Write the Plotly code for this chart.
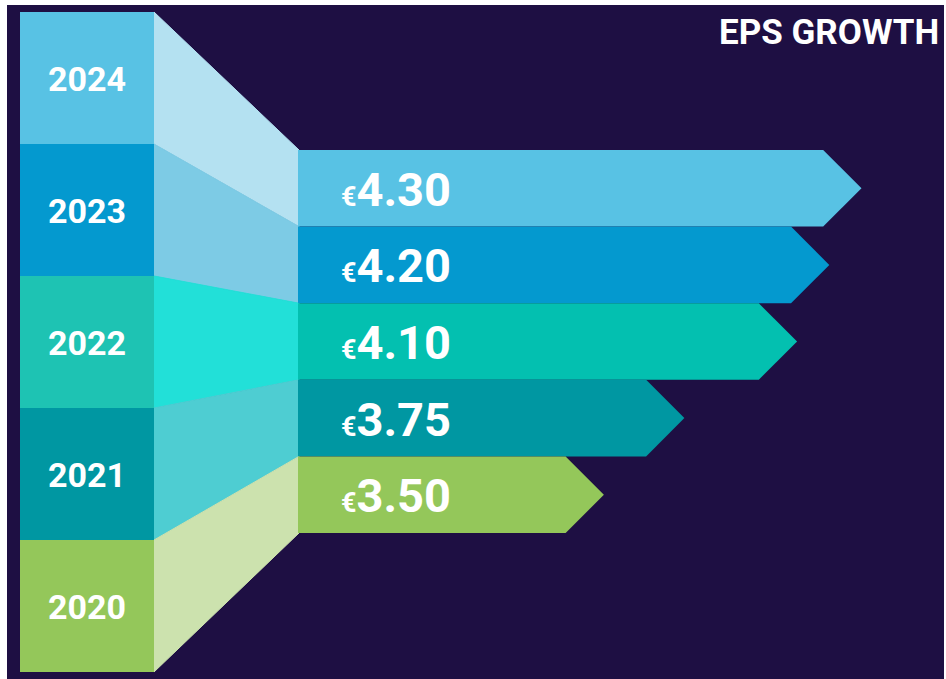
import plotly.graph_objects as go

# ---------------- data ----------------
years = ["2024", "2023", "2022", "2021", "2020"]
eps = [4.30, 4.20, 4.10, 3.75, 3.50]
value_labels = ["€4.30", "€4.20", "€4.10", "€3.75", "€3.50"]
title_text = "EPS GROWTH"

block_colors = ["#58c2e4", "#0499cf", "#1ec3b3", "#0097a2", "#94c75a"]
funnel_colors = ["#b4e1f1", "#7dcbe5", "#22e0d8", "#4ecdd2", "#cce2ae"]
bar_colors = ["#58c2e4", "#0499cf", "#03c0b0", "#0097a2", "#94c75a"]
bg_color = "#1e0f43"

# ---------------- layout constants (pixels) ----------------
W, H = 946, 679
BAR_START_PX = 298.0     # left edge of the arrows
PX_PER_EUR = 322.0       # value scale of the arrows
BASE_EUR = 2.55          # value at the arrows' left edge
BLOCK_X0, BLOCK_X1 = 20.0, 154.0
BLOCK_TOP, BLOCK_H = 12.0, 132.0
BAR_TOP, BAR_H = 150.0, 76.6
HEAD_PX = BAR_H / 2.0

x_min = BASE_EUR - BAR_START_PX / PX_PER_EUR
x_max = BASE_EUR + (W - BAR_START_PX) / PX_PER_EUR
head = HEAD_PX / PX_PER_EUR

fig = go.Figure()

shapes = []
# background panel
shapes.append(dict(type="rect", xref="x2", yref="y", x0=7, x1=944, y0=5, y1=H,
                   fillcolor=bg_color, line=dict(width=0), layer="below"))

annotations = []
for i, (yr, v, lab) in enumerate(zip(years, eps, value_labels)):
    bt = BLOCK_TOP + i * BLOCK_H
    bb = bt + BLOCK_H
    at = BAR_TOP + i * BAR_H
    ab = at + BAR_H
    # funnel connector
    path = (f"M {BLOCK_X1},{bt} L {BAR_START_PX + 1},{at} L {BAR_START_PX + 1},{ab} "
            f"L {BLOCK_X1},{bb} Z")
    shapes.append(dict(type="path", xref="x2", yref="y", path=path,
                       fillcolor=funnel_colors[i],
                       line=dict(width=1, color=funnel_colors[i]), layer="below"))
    # year block
    shapes.append(dict(type="rect", xref="x2", yref="y", x0=BLOCK_X0, x1=BLOCK_X1,
                       y0=bt, y1=bb, fillcolor=block_colors[i], line=dict(width=0),
                       layer="below"))
    annotations.append(dict(xref="x2", yref="y", x=(BLOCK_X0 + BLOCK_X1) / 2,
                            y=(bt + bb) / 2 + 1, text=f"<b>{yr}</b>", showarrow=False,
                            font=dict(family="Roboto", size=34, color="white"),
                            xanchor="center", yanchor="middle"))
    # arrow bar (value driven)
    mid = (at + ab) / 2
    fig.add_trace(go.Scatter(
        x=[BASE_EUR, v - head, v, v - head, BASE_EUR, BASE_EUR],
        y=[at, at, mid, ab, ab, at],
        mode="lines", fill="toself", fillcolor=bar_colors[i],
        line=dict(width=0, color=bar_colors[i]), hoverinfo="text",
        text=f"{yr}: {lab}", showlegend=False))
    euro, num = lab[0], lab[1:]
    annotations.append(dict(xref="x2", yref="y", x=339, y=mid + 1,
                            text=f"<b><span style='font-size:27px'>{euro}</span>{num}</b>",
                            showarrow=False,
                            font=dict(family="Roboto", size=47, color="white"),
                            xanchor="left", yanchor="middle"))

annotations.append(dict(xref="x2", yref="y", x=941, y=32, text=f"<b>{title_text}</b>",
                        showarrow=False, font=dict(family="Roboto", size=35, color="white"),
                        xanchor="right", yanchor="middle"))

fig.update_layout(
    width=W, height=H,
    margin=dict(l=0, r=0, t=0, b=0),
    paper_bgcolor="white", plot_bgcolor="rgba(0,0,0,0)",
    xaxis=dict(range=[x_min, x_max], visible=False, fixedrange=True),
    xaxis2=dict(range=[0, W], overlaying="x", visible=False, fixedrange=True),
    yaxis=dict(range=[H, 0], visible=False, fixedrange=True),
    shapes=shapes, annotations=annotations, showlegend=False,
)

fig.write_html("out.html")
